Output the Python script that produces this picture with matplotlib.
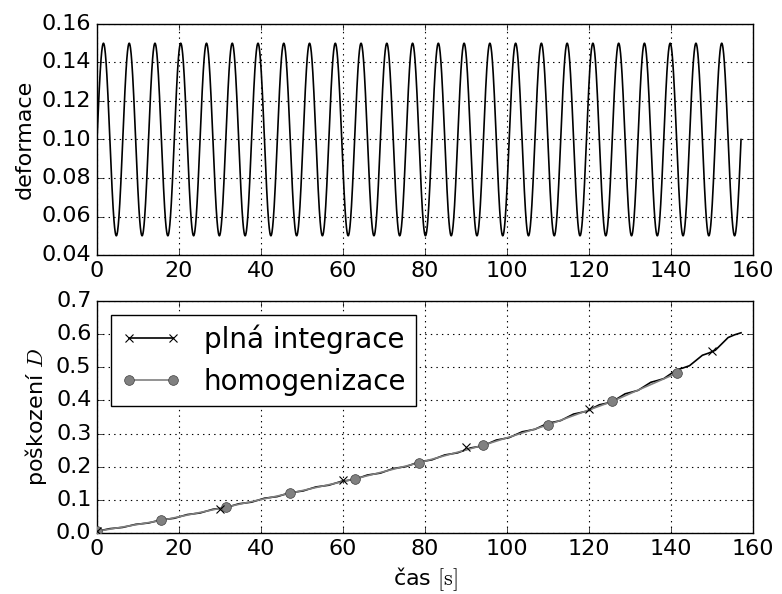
import numpy as np
import matplotlib
matplotlib.use("Agg")
import matplotlib.pyplot as plt
from matplotlib.lines import Line2D

plt.style.use("classic")
plt.rcParams["mathtext.fontset"] = "cm"
plt.rcParams["font.family"] = ["DejaVu Sans"]

# ---- data: loading (strain) ----
strain_mean = 0.10
strain_amp = 0.05
n_cycles = 25
t_strain = np.linspace(0, n_cycles * 2 * np.pi, 3000)
strain = strain_mean + strain_amp * np.sin(t_strain)

# ---- data: damage, full integration (sampled every quarter cycle) ----
t_full = np.arange(101) * np.pi / 2
D_full = [0.0050, 0.0091, 0.0132, 0.0149,
          0.0169, 0.0215, 0.0261, 0.0281,
          0.0302, 0.0351, 0.0399, 0.0420,
          0.0444, 0.0500, 0.0556, 0.0580,
          0.0604, 0.0660, 0.0716, 0.0740,
          0.0765, 0.0823, 0.0881, 0.0906,
          0.0931, 0.0990, 0.1049, 0.1074,
          0.1099, 0.1159, 0.1218, 0.1243,
          0.1269, 0.1330, 0.1390, 0.1416,
          0.1442, 0.1502, 0.1562, 0.1588,
          0.1617, 0.1683, 0.1750, 0.1778,
          0.1807, 0.1876, 0.1945, 0.1974,
          0.2004, 0.2075, 0.2145, 0.2175,
          0.2207, 0.2281, 0.2355, 0.2387,
          0.2419, 0.2493, 0.2567, 0.2599,
          0.2635, 0.2720, 0.2804, 0.2840,
          0.2878, 0.2965, 0.3053, 0.3090,
          0.3129, 0.3220, 0.3311, 0.3350,
          0.3392, 0.3490, 0.3588, 0.3630,
          0.3672, 0.3770, 0.3868, 0.3910,
          0.3961, 0.4080, 0.4199, 0.4250,
          0.4303, 0.4425, 0.4548, 0.4600,
          0.4657, 0.4790, 0.4923, 0.4980,
          0.5048, 0.5205, 0.5363, 0.5430,
          0.5513, 0.5705, 0.5898, 0.5980,
          0.6040]
t_full_marks = [0, 30, 60, 90, 120, 150]
D_full_marks = [0.005, 0.073, 0.160, 0.258, 0.375, 0.548]

# ---- data: damage, homogenization ----
t_hom = np.arange(10) * 5 * np.pi
D_hom = [0.005, 0.038, 0.078, 0.120, 0.163, 0.212, 0.265, 0.326, 0.397, 0.482]

fig = plt.figure(figsize=(7.82, 5.94), dpi=100, facecolor="white")
ax1 = fig.add_axes([97/782, 1-255/594, (753-97)/782, (255-24)/594])
ax2 = fig.add_axes([97/782, 1-533/594, (753-97)/782, (533-301)/594])

fs = 16
ax1.plot(t_strain, strain, color="black", lw=1.2)
ax1.set_xlim(0, 160)
ax1.set_ylim(0.04, 0.16)
ax1.set_yticks([0.04, 0.06, 0.08, 0.10, 0.12, 0.14, 0.16])
ax1.set_yticklabels(["0.04", "0.06", "0.08", "0.10", "0.12", "0.14", "0.16"])
ax1.set_ylabel("deformace", fontsize=fs)

ax2.plot(t_hom, D_hom, color="0.5", lw=1.2, marker="o", ms=7,
         mfc="0.5", mec="0.25", zorder=3)
ax2.plot(t_full, D_full, color="black", lw=1.2, zorder=2)
ax2.plot(t_full_marks, D_full_marks, ls="none", marker="x", ms=6,
         mec="black", mew=0.8, zorder=4)
ax2.set_xlim(0, 160)
ax2.set_ylim(0, 0.7)
ax2.set_yticks([0.0, 0.1, 0.2, 0.3, 0.4, 0.5, 0.6, 0.7])
ax2.set_yticklabels(["0.0", "0.1", "0.2", "0.3", "0.4", "0.5", "0.6", "0.7"])
ax2.set_ylabel(r"poškození $D$", fontsize=fs)
ax2.set_xlabel(r"čas $[\mathrm{s}]$", fontsize=fs)

h_full = Line2D([], [], color="black", lw=1.2, marker="x", ms=6, mew=0.8)
h_hom = Line2D([], [], color="0.5", lw=1.2, marker="o", ms=7, mfc="0.5", mec="0.25")
leg = ax2.legend([h_full, h_hom], ["plná integrace", "homogenizace"],
                 loc="upper left", fontsize=20, numpoints=2, frameon=True,
                 fancybox=False, borderaxespad=0.5, handlelength=2.2,
                 handletextpad=0.8, borderpad=0.35, labelspacing=0.5)
leg.get_frame().set_edgecolor("black")

for ax in (ax1, ax2):
    ax.grid(True, color="black", linestyle=":", linewidth=0.8)
    ax.set_xticks([0, 20, 40, 60, 80, 100, 120, 140, 160])
    ax.tick_params(labelsize=fs, direction="in", top=True, right=True, pad=4)

fig.savefig("out.png", dpi=100, facecolor="white")
